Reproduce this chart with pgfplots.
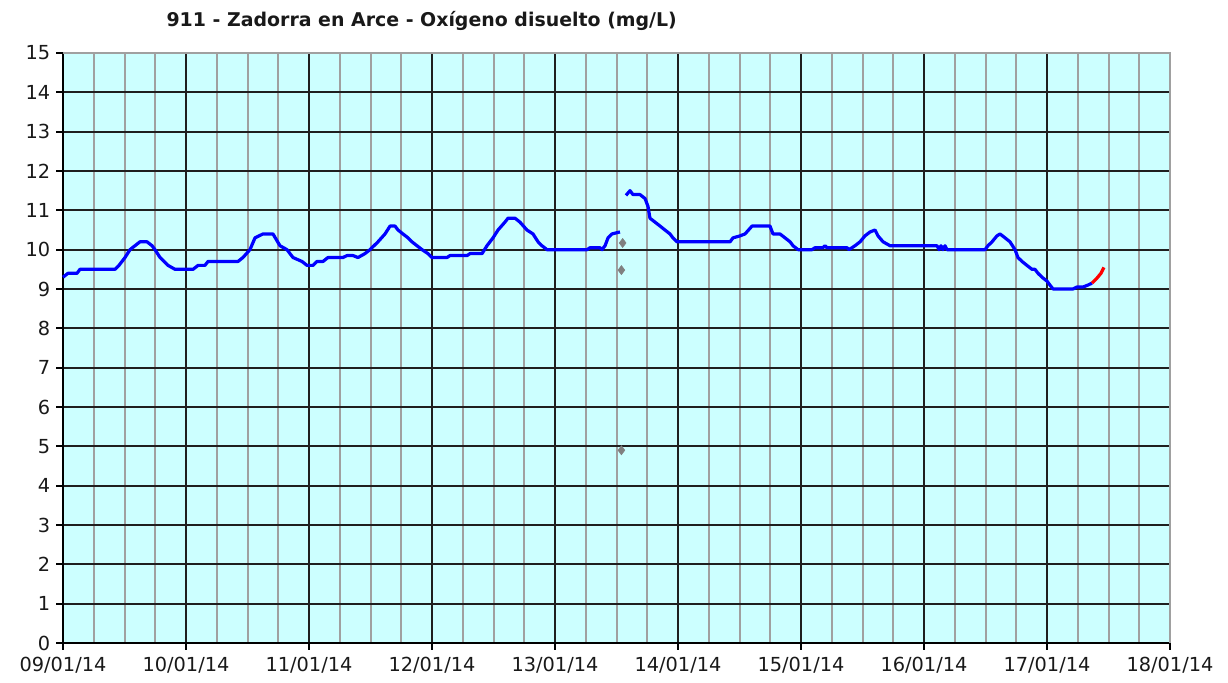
\documentclass[border=0pt]{standalone}
\usepackage{pgfplots}
\pgfplotsset{compat=1.18}
\usepackage{fontspec}
\setmainfont{DejaVu Sans}
\usetikzlibrary{calc}
\definecolor{bgc}{HTML}{CCFFFF}
\definecolor{minorg}{HTML}{A0A0A0}
\definecolor{ptg}{HTML}{808080}
\begin{document}
\begin{tikzpicture}
\begin{axis}[
  scale only axis, width=830.25pt, height=442.5pt,
  xmin=0, xmax=9, ymin=0, ymax=15,
  axis background/.style={fill=bgc},
  xtick={0,1,2,3,4,5,6,7,8,9},
  xticklabels={09/01/14,10/01/14,11/01/14,12/01/14,13/01/14,14/01/14,15/01/14,16/01/14,17/01/14,18/01/14},
  minor xtick={0.25,0.5,0.75,1.25,1.5,1.75,2.25,2.5,2.75,3.25,3.5,3.75,4.25,4.5,4.75,5.25,5.5,5.75,6.25,6.5,6.75,7.25,7.5,7.75,8.25,8.5,8.75},
  ytick={0,1,...,15},
  grid=both,
  major grid style={draw=black!88, line width=1.3pt},
  minor grid style={draw=minorg, line width=1.5pt},
  axis x line*=bottom, axis y line*=left,
  axis line style={-, black, line width=1.3pt},
  tick align=outside,
  major tick length=5pt, minor tick length=0pt,
  tick style={black, line width=1.3pt},
  /pgf/number format/assume math mode=true,
  ticklabel style={font=\fontsize{14.5}{17}\selectfont, text=black!90},
  xticklabel style={yshift=-2pt},
  yticklabel style={xshift=-1pt},
  clip=false,
]
\coordinate (sw) at (rel axis cs:0,0);
\coordinate (ne) at (rel axis cs:1,1);
\draw[minorg, line width=1.3pt] (rel axis cs:0,1) -- (rel axis cs:1,1) -- (rel axis cs:1,0);
\addplot[blue, line width=2.4pt, line join=round, mark=none] coordinates {
(0.000,9.3)(0.041,9.4)(0.114,9.4)(0.138,9.5)(0.423,9.5)(0.455,9.6)(0.504,9.8)(0.545,10.0)
(0.585,10.1)(0.626,10.2)(0.683,10.2)(0.724,10.1)(0.748,10.0)(0.789,9.8)(0.854,9.6)(0.911,9.5)
(1.057,9.5)(1.098,9.6)(1.154,9.6)(1.179,9.7)(1.423,9.7)(1.463,9.8)(1.520,10.0)(1.561,10.3)
(1.626,10.4)(1.707,10.4)(1.764,10.1)(1.821,10.0)(1.870,9.8)(1.943,9.7)(1.984,9.6)(2.033,9.6)
(2.065,9.7)(2.114,9.7)(2.154,9.8)(2.276,9.8)(2.309,9.85)(2.358,9.85)(2.398,9.8)(2.455,9.9)
(2.496,10.0)(2.561,10.2)(2.618,10.4)(2.659,10.6)(2.699,10.6)(2.724,10.5)(2.764,10.4)(2.805,10.3)
(2.837,10.2)(2.878,10.1)(2.919,10.0)(2.967,9.9)(3.000,9.8)(3.122,9.8)(3.146,9.85)(3.285,9.85)
(3.309,9.9)(3.407,9.9)(3.447,10.1)(3.496,10.3)(3.537,10.5)(3.593,10.7)(3.618,10.8)(3.675,10.8)
(3.715,10.7)(3.772,10.5)(3.821,10.4)(3.862,10.2)(3.894,10.1)(3.935,10.0)(4.260,10.0)(4.285,10.05)
(4.366,10.05)(4.382,10.0)(4.407,10.1)(4.431,10.3)(4.463,10.4)(4.528,10.45)
};
\addplot[blue, line width=2.4pt, line join=round, mark=none] coordinates {
(4.577,11.38)(4.610,11.5)(4.634,11.4)(4.691,11.4)(4.732,11.3)(4.756,11.1)(4.772,10.8)(4.813,10.7)
(4.854,10.6)(4.894,10.5)(4.935,10.4)(4.959,10.3)(4.992,10.2)(5.423,10.2)(5.447,10.3)(5.504,10.35)
(5.545,10.4)(5.602,10.6)(5.748,10.6)(5.772,10.4)(5.829,10.4)(5.870,10.3)(5.911,10.2)(5.935,10.1)
(5.976,10.0)(6.089,10.0)(6.114,10.05)(6.179,10.05)(6.195,10.1)(6.211,10.05)(6.374,10.05)(6.390,10.0)
(6.439,10.1)(6.480,10.2)(6.520,10.35)(6.561,10.45)(6.602,10.5)(6.626,10.35)(6.667,10.2)(6.724,10.1)
(7.106,10.1)(7.122,10.0)(7.138,10.1)(7.154,10.0)(7.171,10.1)(7.187,10.0)(7.496,10.0)(7.520,10.1)
(7.553,10.2)(7.593,10.35)(7.618,10.4)(7.659,10.3)(7.699,10.2)(7.740,10.0)(7.764,9.8)(7.797,9.7)
(7.837,9.6)(7.878,9.5)(7.902,9.5)(7.927,9.4)(7.959,9.3)(8.000,9.2)(8.024,9.1)(8.049,9.0)
(8.211,9.0)(8.244,9.05)(8.293,9.05)(8.333,9.1)(8.366,9.15)
};
\addplot[red, line width=2.4pt, line join=round, mark=none] coordinates {
(8.366,9.15)(8.407,9.28)(8.439,9.4)(8.463,9.55)
};
\addplot[only marks, mark=diamond*, mark size=3.4pt, color=ptg] coordinates {
(4.55,10.17)(4.54,9.48)(4.54,4.9)
};
\node[font=\bfseries\fontsize{14.2}{17}\selectfont, text=black!90] at (rel axis cs:0.324,1.055) {911 - Zadorra en Arce - Oxígeno disuelto (mg/L)};
\end{axis}
\pgfresetboundingbox
\path[use as bounding box] ($(sw)+(-47.25pt,-29.25pt)$) rectangle ($(ne)+(43.5pt,39.75pt)$);
\end{tikzpicture}
\end{document}
